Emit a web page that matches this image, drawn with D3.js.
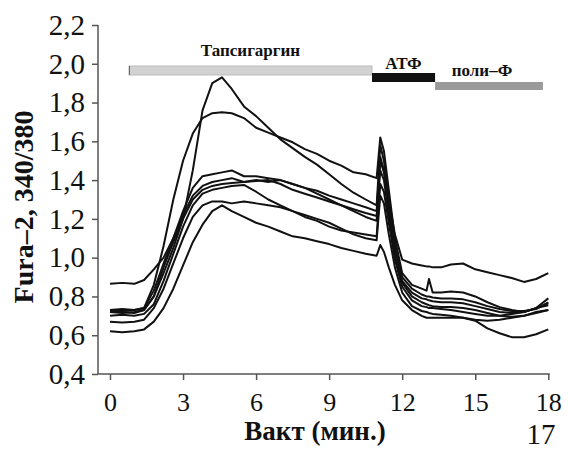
<!DOCTYPE html>
<html>
<head>
<meta charset="utf-8">
<script src="https://cdn.jsdelivr.net/npm/d3@7"></script>
<style>
  body { margin: 0; background: #fff; }
  svg { display: block; }
  text { font-family: "Liberation Serif", "Times New Roman", serif; fill: #111; }
</style>
</head>
<body>
<svg width="568" height="450"></svg>
<script>
// time points (min) shared by all traces
var times = [0, 0.5, 1.0, 1.4, 1.8, 2.2, 2.6, 3.0, 3.4, 3.8, 4.2, 4.6, 5.0, 5.5, 6.0, 6.5, 7.0, 7.5, 8.0, 8.5,
  9.0, 9.5, 10.0, 10.5, 10.95, 11.1, 11.25, 11.45, 11.7, 12.0, 12.4, 12.8, 13.0, 13.1, 13.25, 13.6, 14.0, 14.5,
  15.0, 15.5, 16.0, 16.5, 17.0, 17.5, 18.0];

// Fura-2 340/380 ratio, one array per cell
var cell1 = [0.865, 0.87, 0.865, 0.885, 0.94, 1.00, 1.10, 1.22, 1.32, 1.37, 1.39, 1.40, 1.41, 1.39, 1.40, 1.39,
  1.40, 1.38, 1.36, 1.345, 1.32, 1.30, 1.28, 1.26, 1.24, 1.52, 1.45, 1.30, 1.12, 0.99, 0.97, 0.96, 0.955, 0.955,
  0.95, 0.95, 0.965, 0.97, 0.94, 0.925, 0.91, 0.895, 0.875, 0.89, 0.92];
var cell2 = [0.73, 0.735, 0.73, 0.74, 0.86, 1.06, 1.30, 1.50, 1.64, 1.72, 1.745, 1.75, 1.745, 1.72, 1.67, 1.645,
  1.62, 1.595, 1.56, 1.535, 1.50, 1.475, 1.44, 1.43, 1.41, 1.62, 1.55, 1.35, 1.10, 0.92, 0.86, 0.84, 0.83, 0.89,
  0.82, 0.82, 0.825, 0.82, 0.80, 0.77, 0.745, 0.73, 0.72, 0.74, 0.79];
var cell3 = [0.72, 0.72, 0.715, 0.73, 0.80, 0.92, 1.05, 1.20, 1.45, 1.76, 1.90, 1.93, 1.87, 1.78, 1.73, 1.67,
  1.61, 1.565, 1.52, 1.48, 1.43, 1.38, 1.335, 1.30, 1.27, 1.58, 1.50, 1.30, 1.06, 0.90, 0.84, 0.81, 0.80, 0.80,
  0.795, 0.79, 0.79, 0.785, 0.77, 0.75, 0.735, 0.725, 0.725, 0.735, 0.77];
var cell4 = [0.73, 0.725, 0.73, 0.74, 0.83, 0.97, 1.10, 1.24, 1.36, 1.42, 1.43, 1.44, 1.45, 1.42, 1.42, 1.41,
  1.40, 1.38, 1.36, 1.33, 1.30, 1.27, 1.24, 1.21, 1.19, 1.50, 1.44, 1.26, 1.04, 0.88, 0.82, 0.79, 0.785, 0.78,
  0.775, 0.77, 0.77, 0.765, 0.75, 0.735, 0.72, 0.715, 0.72, 0.74, 0.755];
var cell5 = [0.72, 0.715, 0.72, 0.73, 0.80, 0.95, 1.08, 1.20, 1.30, 1.35, 1.37, 1.38, 1.385, 1.39, 1.395, 1.40,
  1.38, 1.35, 1.33, 1.31, 1.29, 1.27, 1.25, 1.23, 1.215, 1.45, 1.40, 1.22, 1.02, 0.87, 0.80, 0.77, 0.76, 0.755,
  0.75, 0.745, 0.745, 0.74, 0.73, 0.715, 0.70, 0.695, 0.70, 0.72, 0.73];
var cell6 = [0.70, 0.705, 0.70, 0.71, 0.76, 0.88, 1.02, 1.16, 1.27, 1.33, 1.35, 1.36, 1.37, 1.375, 1.34, 1.30,
  1.27, 1.24, 1.21, 1.19, 1.16, 1.14, 1.13, 1.12, 1.11, 1.38, 1.34, 1.18, 0.99, 0.85, 0.78, 0.75, 0.745, 0.74,
  0.74, 0.735, 0.73, 0.72, 0.71, 0.70, 0.70, 0.71, 0.72, 0.74, 0.765];
var cell7 = [0.67, 0.665, 0.67, 0.68, 0.74, 0.84, 0.97, 1.10, 1.21, 1.27, 1.29, 1.29, 1.28, 1.29, 1.28, 1.27,
  1.26, 1.24, 1.22, 1.20, 1.18, 1.15, 1.12, 1.10, 1.09, 1.32, 1.28, 1.12, 0.95, 0.82, 0.75, 0.725, 0.72, 0.715,
  0.71, 0.705, 0.70, 0.69, 0.68, 0.675, 0.68, 0.69, 0.70, 0.715, 0.73];
var cell8 = [0.62, 0.615, 0.62, 0.63, 0.67, 0.74, 0.84, 0.96, 1.08, 1.17, 1.24, 1.27, 1.24, 1.21, 1.18, 1.16,
  1.135, 1.11, 1.10, 1.085, 1.07, 1.05, 1.035, 1.02, 1.01, 1.065, 1.03, 0.95, 0.86, 0.78, 0.73, 0.70, 0.69, 0.69,
  0.69, 0.69, 0.69, 0.69, 0.675, 0.635, 0.61, 0.59, 0.59, 0.605, 0.63];
var cells = [cell1, cell2, cell3, cell4, cell5, cell6, cell7, cell8];

// treatment bars
var agents = ["Тапсигаргин", "АТФ", "поли–Ф"];
var agentStart = [0.78, 10.76, 13.35];
var agentEnd = [10.76, 13.35, 17.78];
var agentFill = ["#d2d2d2", "#111111", "#9a9a9a"];

var yTicks = [0.4, 0.6, 0.8, 1.0, 1.2, 1.4, 1.6, 1.8, 2.0, 2.2];
var xTicks = [0, 3, 6, 9, 12, 15, 18];

var svg = d3.select("svg");
var axisLeftX = 98, axisY = 374;

var x = d3.scaleLinear().domain([0, 18]).range([110, 548.3]);
var y = d3.scaleLinear().domain([0.4, 2.2]).range([374, 25]);

// axes
var gy = svg.append("g")
    .attr("transform", "translate(" + axisLeftX + ",0)")
    .call(d3.axisLeft(y).tickValues(yTicks).tickSize(6).tickPadding(7)
      .tickFormat(function(d) { return d.toFixed(1).replace(".", ","); }));
var gx = svg.append("g")
    .attr("transform", "translate(0," + axisY + ")")
    .call(d3.axisBottom(x).tickValues(xTicks).tickSize(6).tickSizeOuter(0));

[gx, gy].forEach(function(g) {
  g.select(".domain").remove();
  g.selectAll("line").attr("stroke", "#555").attr("stroke-width", 1.5);
  g.selectAll("text").attr("fill", "#222").style("font-family", "Liberation Serif, serif");
});
gy.selectAll("text").style("font-size", "29px");
gx.selectAll("text").style("font-size", "26px").attr("y", 37).attr("dy", 0);

svg.append("line")
    .attr("x1", axisLeftX).attr("x2", axisLeftX)
    .attr("y1", y(2.2)).attr("y2", axisY)
    .attr("stroke", "#555").attr("stroke-width", 1.5);
svg.append("line")
    .attr("x1", axisLeftX).attr("x2", x(18) + 1.5)
    .attr("y1", axisY).attr("y2", axisY)
    .attr("stroke", "#555").attr("stroke-width", 1.5);

// traces
var line = d3.line()
    .x(function(d, i) { return x(times[i]); })
    .y(function(d) { return y(d); });

svg.append("g")
  .selectAll("path")
  .data(cells)
  .enter().append("path")
    .attr("d", line)
    .attr("fill", "none")
    .attr("stroke", "#111")
    .attr("stroke-width", 2)
    .attr("stroke-linejoin", "round");

// treatment bars and labels
var barTop = [66, 73, 82];
var barH = [9, 9, 8];
var labelY = [56, 69, 76];
agents.forEach(function(name, i) {
  svg.append("rect")
      .attr("x", x(agentStart[i]))
      .attr("y", barTop[i])
      .attr("width", x(agentEnd[i]) - x(agentStart[i]))
      .attr("height", barH[i])
      .attr("fill", agentFill[i])
      .attr("stroke", i == 0 ? "#bcbcbc" : "none");
  svg.append("text")
      .attr("x", (x(agentStart[i]) + x(agentEnd[i])) / 2 + (i == 2 ? -7 : 0))
      .attr("y", labelY[i])
      .attr("text-anchor", "middle")
      .style("font-size", "17px")
      .style("font-weight", "bold")
      .text(name);
});
svg.append("line")
    .attr("x1", x(agentStart[0]) + 0.5).attr("x2", x(agentStart[0]) + 0.5)
    .attr("y1", 66).attr("y2", 75)
    .attr("stroke", "#666").attr("stroke-width", 1);

// axis titles
svg.append("text")
    .attr("transform", "translate(33,207) rotate(-90)")
    .attr("text-anchor", "middle")
    .style("font-size", "28px")
    .style("font-weight", "bold")
    .text("Fura–2, 340/380");

svg.append("text")
    .attr("x", 315).attr("y", 440)
    .attr("text-anchor", "middle")
    .style("font-size", "27px")
    .style("font-weight", "bold")
    .text("Вакт (мин.)");

// page number
svg.append("text")
    .attr("x", 541).attr("y", 443.5)
    .attr("text-anchor", "middle")
    .style("font-size", "29px")
    .text("17");
</script>
</body>
</html>
